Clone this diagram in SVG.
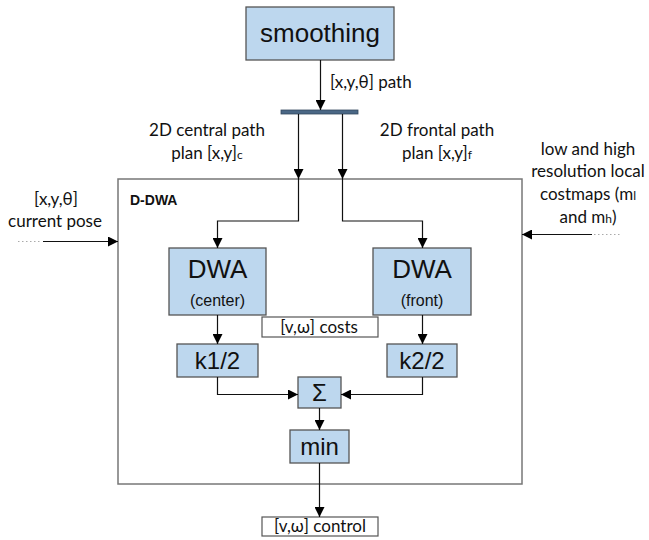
<svg xmlns="http://www.w3.org/2000/svg" width="649" height="540" viewBox="0 0 649 540">
  <defs>
    <marker id="arr" viewBox="0 0 10 10" refX="10" refY="5" markerWidth="10" markerHeight="10" markerUnits="userSpaceOnUse" orient="auto">
      <path d="M0,0 L10,5 L0,10 z" fill="#000"/>
    </marker>
  </defs>
  <style>
    .blk { fill: #bdd7ee; stroke: #555; stroke-width: 1.3; }
    .lbl { fill: #fff; stroke: #555; stroke-width: 1.2; }
    .frame { fill: none; stroke: #777; stroke-width: 1.5; }
    .big { font-family: "Liberation Sans", Arial, sans-serif; font-size: 26px; fill: #111; text-anchor: middle; }
    .mid { font-family: "Liberation Sans", Arial, sans-serif; font-size: 24px; fill: #111; text-anchor: middle; }
    .sm { font-family: "Liberation Sans", Arial, sans-serif; font-size: 16px; fill: #111; text-anchor: middle; }
    .note { font-family: "Lato", "Open Sans", sans-serif; font-size: 17px; fill: #111; text-anchor: middle; }
    .sub { font-size: 12px; }
    .wire { fill: none; stroke: #111; stroke-width: 1.2; }
    .dots { fill: none; stroke: #aaa; stroke-width: 1; stroke-dasharray: 1.5 2.5; }
  </style>

  <!-- outer D-DWA frame -->
  <g id="ddwa">
    <rect class="frame" x="118" y="179" width="404" height="305"/>
    <text x="130" y="205" font-family="'Liberation Sans', Arial, sans-serif" font-size="14" font-weight="bold" fill="#111">D-DWA</text>
  </g>

  <g id="smoothing">
    <rect class="blk" x="246" y="7" width="148" height="53"/>
    <text class="big" x="320" y="42">smoothing</text>
  </g>

  <g id="splitter">
    <rect x="281" y="110" width="77" height="4" fill="#4a6785" stroke="#34495e" stroke-width="0.8"/>
  </g>

  <g id="dwa-center">
    <rect class="blk" x="169" y="248" width="97" height="67"/>
    <text class="big" x="217.5" y="278">DWA</text>
    <text class="sm" x="217.5" y="306">(center)</text>
  </g>

  <g id="dwa-front">
    <rect class="blk" x="373" y="248" width="98" height="67"/>
    <text class="big" x="422" y="278">DWA</text>
    <text class="sm" x="422" y="306">(front)</text>
  </g>

  <g id="costs">
    <rect class="lbl" x="262" y="317" width="116" height="20"/>
    <text class="note" x="319" y="333">[v,ω] costs</text>
  </g>

  <g id="k1">
    <rect class="blk" x="177" y="344" width="81" height="33"/>
    <text class="mid" x="217.5" y="369">k1/2</text>
  </g>

  <g id="k2">
    <rect class="blk" x="387" y="344" width="70" height="33"/>
    <text class="mid" x="422" y="369">k2/2</text>
  </g>

  <g id="sum">
    <rect class="blk" x="298" y="377" width="43" height="31"/>
    <text class="mid" x="319.5" y="401">Σ</text>
  </g>

  <g id="min">
    <rect class="blk" x="290" y="430" width="59" height="33"/>
    <text class="mid" x="319.5" y="455">min</text>
  </g>

  <g id="control">
    <rect class="lbl" x="262" y="517" width="116" height="19"/>
    <text class="note" x="320" y="532">[v,ω] control</text>
  </g>

  <!-- free-standing labels -->
  <g id="labels">
    <text class="note" x="330" y="88" style="text-anchor:start">[x,y,θ] path</text>
    <text class="note" x="207" y="136">2D central path</text>
    <text class="note" x="207" y="159">plan [x,y]<tspan class="sub">c</tspan></text>
    <text class="note" x="437" y="136">2D frontal path</text>
    <text class="note" x="437" y="159">plan [x,y]<tspan class="sub">f</tspan></text>
    <text class="note" x="56" y="205">[x,y,θ]</text>
    <text class="note" x="55" y="227">current pose</text>
    <text class="note" x="588" y="155">low and high</text>
    <text class="note" x="588" y="177">resolution local</text>
    <text class="note" x="588" y="200">costmaps (m<tspan class="sub">l</tspan></text>
    <text class="note" x="588" y="223">and m<tspan class="sub">h</tspan>)</text>
  </g>

  <!-- connectors -->
  <g id="connectors">
    <line class="wire" x1="320.5" y1="60" x2="320.5" y2="110" marker-end="url(#arr)"/>
    <line class="wire" x1="298.5" y1="114" x2="298.5" y2="179" marker-end="url(#arr)"/>
    <line class="wire" x1="342.5" y1="114" x2="342.5" y2="179" marker-end="url(#arr)"/>
    <polyline class="wire" points="298.5,179 298.5,221 217.5,221 217.5,248" marker-end="url(#arr)"/>
    <polyline class="wire" points="342.5,179 342.5,221 422.5,221 422.5,248" marker-end="url(#arr)"/>
    <line class="wire" x1="217.5" y1="315" x2="217.5" y2="344" marker-end="url(#arr)"/>
    <line class="wire" x1="422.5" y1="315" x2="422.5" y2="344" marker-end="url(#arr)"/>
    <polyline class="wire" points="217.5,377 217.5,394.5 298,394.5" marker-end="url(#arr)"/>
    <polyline class="wire" points="422.5,377 422.5,394.5 341,394.5" marker-end="url(#arr)"/>
    <line class="wire" x1="319.5" y1="408" x2="319.5" y2="430" marker-end="url(#arr)"/>
    <line class="wire" x1="319.5" y1="463" x2="319.5" y2="517" marker-end="url(#arr)"/>
    <line class="dots" x1="18" y1="241.5" x2="42" y2="241.5"/>
    <line class="wire" x1="43" y1="241.5" x2="118" y2="241.5" marker-end="url(#arr)"/>
    <line class="dots" x1="594" y1="234.5" x2="620" y2="234.5"/>
    <line class="wire" x1="592" y1="234.5" x2="522" y2="234.5" marker-end="url(#arr)"/>
  </g>
</svg>
